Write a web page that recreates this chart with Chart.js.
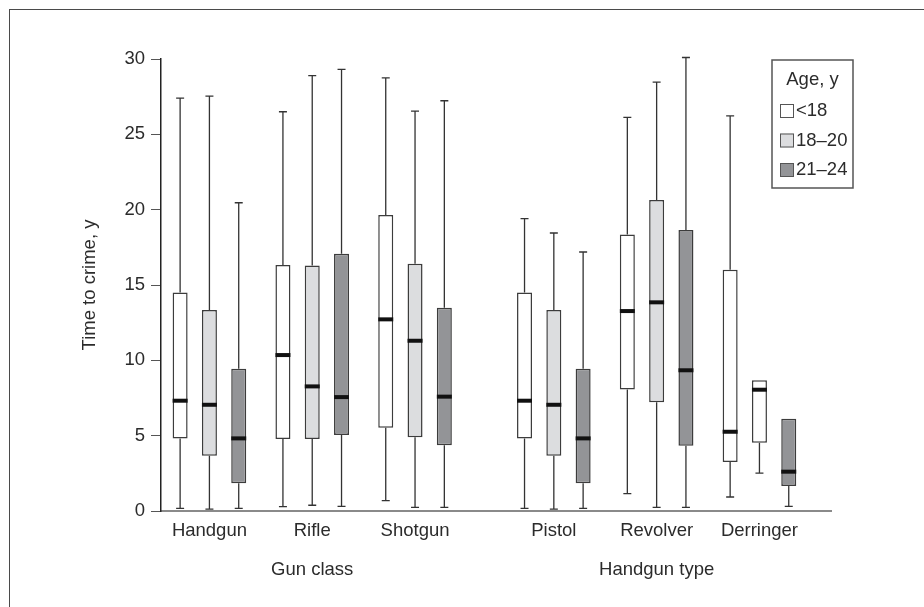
<!DOCTYPE html>
<html>
<head>
<meta charset="utf-8">
<title>Time to crime by gun class and age</title>
<script src="https://cdn.jsdelivr.net/npm/chart.js@4.4.1/dist/chart.umd.min.js"></script>
<style>
    html, body { margin: 0; padding: 0; background: #fff; overflow: hidden; }
    #wrap { position: relative; width: 924px; height: 607px; overflow: hidden; }
    #frame { position: absolute; left: 9px; top: 9px; width: 1000px; height: 800px; border: 1.5px solid #4a4a4a; }
    #chart { position: absolute; left: 0; top: 0; }
</style>
</head>
<body>
<div id="wrap">
    <div id="frame"></div>
    <canvas id="chart" width="924" height="607"></canvas>
</div>
<script>
// Categories (two blocks: gun class, handgun type)
const groups = ['Handgun', 'Rifle', 'Shotgun', 'Pistol', 'Revolver', 'Derringer'];
const groupPos = [1, 2, 3, 4.35, 5.35, 6.35];
const blockTitles = { Rifle: 'Gun class', Revolver: 'Handgun type' };
const ageGroups = ['<18', '18\u201320', '21\u201324'];

// Box plot values per age group (years)
const minU18 = [0.18, 0.29, 0.69, 0.18, 1.15, 0.93];
const q1U18  = [4.82, 4.78, 5.53, 4.82, 8.07, 3.25];
const medU18 = [7.32, 10.35, 12.72, 7.32, 13.27, 5.26];
const q3U18  = [14.51, 16.32, 19.64, 14.51, 18.36, 16.01];
const maxU18 = [27.4, 26.5, 28.75, 19.4, 26.12, 26.23];

const min1820 = [0.13, 0.38, 0.24, 0.13, 0.24, 2.52];
const q11820  = [3.67, 4.78, 4.89, 3.67, 7.21, 4.53];
const med1820 = [7.05, 8.27, 11.3, 7.05, 13.85, 8.05];
const q31820  = [13.34, 16.3, 16.41, 13.34, 20.64, 8.67];
const max1820 = [27.54, 28.89, 26.54, 18.45, 28.47, 8.67];

const min2124 = [0.18, 0.31, 0.24, 0.18, 0.24, 0.31];
const q12124  = [1.84, 5.04, 4.36, 1.84, 4.33, 1.66];
const med2124 = [4.82, 7.56, 7.59, 4.82, 9.34, 2.61];
const q32124  = [9.44, 17.08, 13.49, 9.44, 18.65, 6.12];
const max2124 = [20.46, 29.31, 27.23, 17.19, 30.1, 6.12];

const yTicks = [0, 5, 10, 15, 20, 25, 30];

// Styling
const fills = ['#ffffff', '#dcdddf', '#939497'];
const textColor = '#2b2b2b';
const fontFamily = "'Liberation Sans', Arial, sans-serif";
const fontSize = 18.5;
const boxOffset = 0.285;   // distance between boxes inside a group, in x units

const series = [
    { min: minU18, q1: q1U18, med: medU18, q3: q3U18, max: maxU18 },
    { min: min1820, q1: q11820, med: med1820, q3: q31820, max: max1820 },
    { min: min2124, q1: q12124, med: med2124, q3: q32124, max: max2124 }
];

Chart.defaults.font.family = fontFamily;
Chart.defaults.font.size = fontSize;
Chart.defaults.color = textColor;

const datasets = series.map((s, d) => ({
    label: ageGroups[d],
    data: groups.map((g, i) => ({ x: groupPos[i] + (d - 1) * boxOffset, y: [s.q1[i], s.q3[i]] })),
    // the 18-20 derringer box is printed unfilled in the source figure
    backgroundColor: groups.map((g, i) => (d === 1 && g === 'Derringer') ? '#ffffff' : fills[d]),
    borderColor: '#3c3c3c',
    borderWidth: 1.5,
    borderSkipped: false,
    grouped: false,
    maxBarThickness: 15,
    stats: s
}));

// Whiskers, caps and medians drawn from the y scale
const boxWhiskers = {
    id: 'boxWhiskers',
    afterDatasetsDraw(chart) {
        const ctx = chart.ctx;
        const y = chart.scales.y;
        chart.data.datasets.forEach((ds, d) => {
            const meta = chart.getDatasetMeta(d);
            meta.data.forEach((bar, i) => {
                const s = ds.stats;
                const cx = bar.x, half = bar.width / 2;
                const pMin = y.getPixelForValue(s.min[i]);
                const pQ1 = y.getPixelForValue(s.q1[i]);
                const pMed = y.getPixelForValue(s.med[i]);
                const pQ3 = y.getPixelForValue(s.q3[i]);
                const pMax = y.getPixelForValue(s.max[i]);
                ctx.save();
                ctx.strokeStyle = '#333';
                ctx.lineWidth = 1.3;
                ctx.beginPath();
                if (pMax < pQ3 - 0.5) {
                    ctx.moveTo(cx, pQ3); ctx.lineTo(cx, pMax);
                    ctx.moveTo(cx - 4, pMax); ctx.lineTo(cx + 4, pMax);
                }
                ctx.moveTo(cx, pQ1); ctx.lineTo(cx, pMin);
                ctx.moveTo(cx - 4, pMin); ctx.lineTo(cx + 4, pMin);
                ctx.stroke();
                ctx.strokeStyle = '#111';
                ctx.lineWidth = 4;
                ctx.beginPath();
                ctx.moveTo(cx - half, pMed); ctx.lineTo(cx + half, pMed);
                ctx.stroke();
                ctx.restore();
            });
        });
    }
};

// Boxed legend in the upper right corner of the plot
const boxLegend = {
    id: 'boxLegend',
    afterDraw(chart) {
        const ctx = chart.ctx;
        const area = chart.chartArea;
        const left = area.right - 59, top = area.top + 1, w = 81, h = 128;
        ctx.save();
        ctx.fillStyle = '#fff';
        ctx.fillRect(left, top, w, h);
        ctx.strokeStyle = '#555';
        ctx.lineWidth = 1.5;
        ctx.strokeRect(left, top, w, h);
        ctx.font = fontSize + 'px ' + fontFamily;
        ctx.fillStyle = textColor;
        ctx.textBaseline = 'middle';
        ctx.textAlign = 'center';
        ctx.fillText('Age, y', left + w / 2, top + 20);
        ctx.textAlign = 'left';
        chart.data.datasets.forEach((ds, d) => {
            const cy = top + 51 + d * 29.5;
            ctx.fillStyle = fills[d];
            ctx.fillRect(left + 8, cy - 7, 14, 14);
            ctx.strokeStyle = '#555';
            ctx.lineWidth = 1;
            ctx.strokeRect(left + 8.5, cy - 6.5, 13, 13);
            ctx.fillStyle = textColor;
            ctx.fillText(ds.label, left + 24, cy);
        });
        ctx.restore();
    }
};

new Chart(document.getElementById('chart'), {
    type: 'bar',
    data: { datasets: datasets },
    plugins: [boxWhiskers, boxLegend],
    options: {
        responsive: false,
        animation: false,
        devicePixelRatio: 1,
        layout: { padding: { top: 59, right: 93, left: 0, bottom: 0 } },
        plugins: {
            legend: { display: false },
            tooltip: { enabled: false }
        },
        scales: {
            x: {
                type: 'linear',
                offset: false,
                min: 0.529,
                max: 7.046,
                afterBuildTicks: (scale) => { scale.ticks = groupPos.map(v => ({ value: v })); },
                afterFit: (scale) => { scale.height = 96; },
                grid: { display: false, drawTicks: false },
                border: { display: true, color: '#8a8a8a', width: 2 },
                ticks: {
                    autoSkip: false,
                    maxRotation: 0,
                    padding: 10,
                    font: { size: fontSize, lineHeight: '19.5px' },
                    callback: (value, index) => {
                        const name = groups[index];
                        return blockTitles[name] ? [name, '', blockTitles[name]] : name;
                    }
                }
            },
            y: {
                min: 0,
                max: 30,
                afterBuildTicks: (scale) => { scale.ticks = yTicks.map(v => ({ value: v })); },
                afterFit: (scale) => { scale.width = 161; },
                grid: { drawOnChartArea: false, drawTicks: true, tickLength: 10, color: '#555', lineWidth: 1 },
                border: { display: true, color: '#222', width: 1.5 },
                ticks: { padding: 6, font: { size: fontSize } },
                title: {
                    display: true,
                    text: 'Time to crime, y',
                    font: { size: fontSize },
                    padding: { top: 79, bottom: 0 }
                }
            }
        }
    }
});
</script>
</body>
</html>
